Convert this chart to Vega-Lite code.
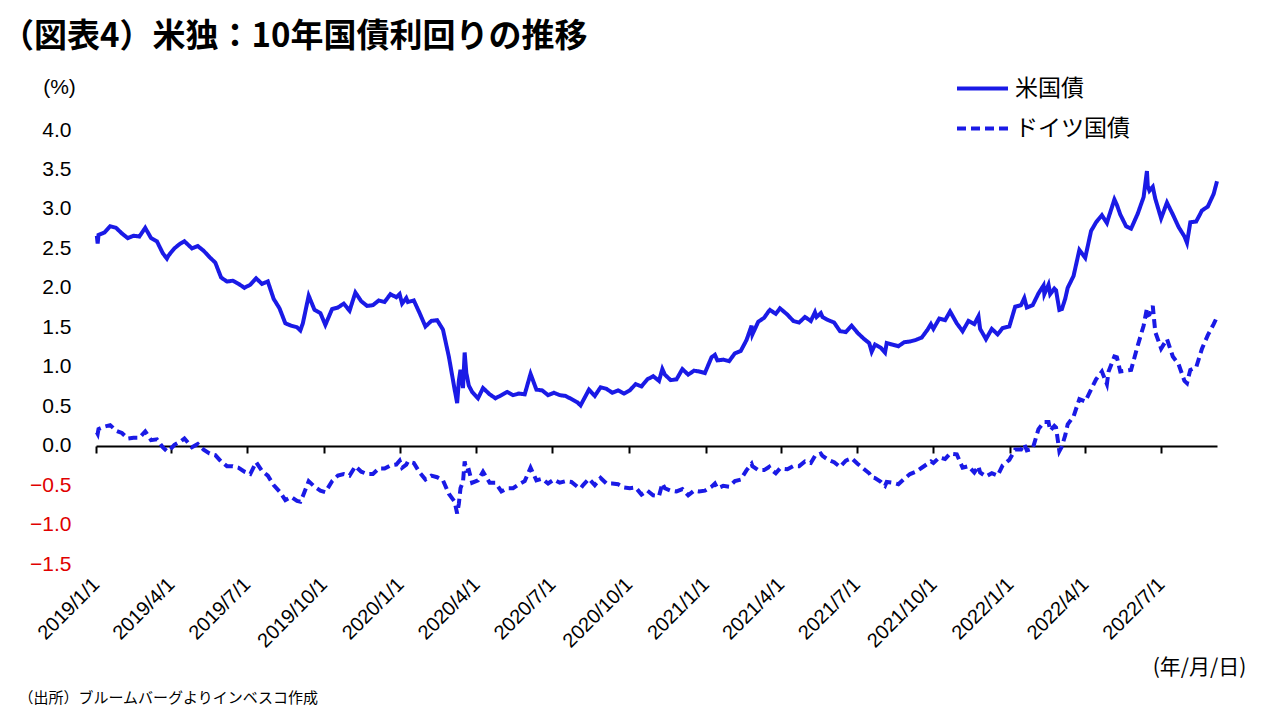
{
  "$schema": "https://vega.github.io/schema/vega-lite/v6.json",
  "width": 1121,
  "height": 434,
  "autosize": {"type": "none"},
  "padding": {"left": 96, "top": 130, "right": 63, "bottom": 156},
  "background": "white",
  "config": {"view": {"stroke": null}, "font": "Liberation Sans", "axis": {"labelOverlap": false}, "axisY": {"labelOverlap": false}},
  "title": {
    "text": "（図表4）米独：10年国債利回りの推移",
    "anchor": "start",
    "frame": "group",
    "font": "Noto Sans CJK JP",
    "fontSize": 33,
    "fontWeight": "bold",
    "color": "black",
    "dx": -95,
    "offset": -26,
    "baseline": "bottom"
  },
  "data": {
    "values": [
      {"d": "2019/01/02", "米国債": 2.66, "ドイツ国債": 0.17},
      {"d": "2019/01/03", "米国債": 2.56, "ドイツ国債": 0.15},
      {"d": "2019/01/04", "米国債": 2.67, "ドイツ国債": 0.21},
      {"d": "2019/01/11", "米国債": 2.70, "ドイツ国債": 0.24},
      {"d": "2019/01/18", "米国債": 2.78, "ドイツ国債": 0.26},
      {"d": "2019/01/25", "米国債": 2.76, "ドイツ国債": 0.19},
      {"d": "2019/02/01", "米国債": 2.69, "ドイツ国債": 0.16},
      {"d": "2019/02/08", "米国債": 2.63, "ドイツ国債": 0.09},
      {"d": "2019/02/15", "米国債": 2.66, "ドイツ国債": 0.10},
      {"d": "2019/02/22", "米国債": 2.65, "ドイツ国債": 0.10},
      {"d": "2019/03/01", "米国債": 2.76, "ドイツ国債": 0.18},
      {"d": "2019/03/08", "米国債": 2.63, "ドイツ国債": 0.07},
      {"d": "2019/03/15", "米国債": 2.59, "ドイツ国債": 0.08},
      {"d": "2019/03/22", "米国債": 2.44, "ドイツ国債": -0.02},
      {"d": "2019/03/27", "米国債": 2.37, "ドイツ国債": -0.07},
      {"d": "2019/03/29", "米国債": 2.41, "ドイツ国債": -0.07},
      {"d": "2019/04/05", "米国債": 2.50, "ドイツ国債": 0.01},
      {"d": "2019/04/12", "米国債": 2.56, "ドイツ国債": 0.05},
      {"d": "2019/04/17", "米国債": 2.59, "ドイツ国債": 0.09},
      {"d": "2019/04/26", "米国債": 2.50, "ドイツ国債": -0.02},
      {"d": "2019/05/03", "米国債": 2.53, "ドイツ国債": 0.02},
      {"d": "2019/05/10", "米国債": 2.47, "ドイツ国債": -0.05},
      {"d": "2019/05/17", "米国債": 2.39, "ドイツ国債": -0.10},
      {"d": "2019/05/24", "米国債": 2.32, "ドイツ国債": -0.12},
      {"d": "2019/05/31", "米国債": 2.13, "ドイツ国債": -0.20},
      {"d": "2019/06/07", "米国債": 2.08, "ドイツ国債": -0.26},
      {"d": "2019/06/14", "米国債": 2.09, "ドイツ国債": -0.26},
      {"d": "2019/06/21", "米国債": 2.05, "ドイツ国債": -0.28},
      {"d": "2019/06/28", "米国債": 2.00, "ドイツ国債": -0.33},
      {"d": "2019/07/05", "米国債": 2.04, "ドイツ国債": -0.36},
      {"d": "2019/07/12", "米国債": 2.12, "ドイツ国債": -0.21},
      {"d": "2019/07/19", "米国債": 2.05, "ドイツ国債": -0.32},
      {"d": "2019/07/26", "米国債": 2.08, "ドイツ国債": -0.38},
      {"d": "2019/08/02", "米国債": 1.86, "ドイツ国債": -0.50},
      {"d": "2019/08/09", "米国債": 1.74, "ドイツ国債": -0.58},
      {"d": "2019/08/16", "米国債": 1.55, "ドイツ国債": -0.69},
      {"d": "2019/08/23", "米国債": 1.52, "ドイツ国債": -0.65},
      {"d": "2019/08/30", "米国債": 1.50, "ドイツ国債": -0.70},
      {"d": "2019/09/03", "米国債": 1.46, "ドイツ国債": -0.71},
      {"d": "2019/09/06", "米国債": 1.55, "ドイツ国債": -0.64},
      {"d": "2019/09/13", "米国債": 1.90, "ドイツ国債": -0.45},
      {"d": "2019/09/20", "米国債": 1.72, "ドイツ国債": -0.52},
      {"d": "2019/09/27", "米国債": 1.68, "ドイツ国債": -0.57},
      {"d": "2019/10/03", "米国債": 1.53, "ドイツ国債": -0.59},
      {"d": "2019/10/11", "米国債": 1.73, "ドイツ国債": -0.45},
      {"d": "2019/10/18", "米国債": 1.75, "ドイツ国債": -0.38},
      {"d": "2019/10/25", "米国債": 1.80, "ドイツ国債": -0.36},
      {"d": "2019/11/01", "米国債": 1.71, "ドイツ国債": -0.38},
      {"d": "2019/11/08", "米国債": 1.94, "ドイツ国債": -0.26},
      {"d": "2019/11/15", "米国債": 1.83, "ドイツ国債": -0.33},
      {"d": "2019/11/22", "米国債": 1.77, "ドイツ国債": -0.36},
      {"d": "2019/11/29", "米国債": 1.78, "ドイツ国債": -0.36},
      {"d": "2019/12/06", "米国債": 1.84, "ドイツ国債": -0.29},
      {"d": "2019/12/13", "米国債": 1.82, "ドイツ国債": -0.29},
      {"d": "2019/12/20", "米国債": 1.92, "ドイツ国債": -0.25},
      {"d": "2019/12/27", "米国債": 1.88, "ドイツ国債": -0.24},
      {"d": "2019/12/31", "米国債": 1.92, "ドイツ国債": -0.19},
      {"d": "2020/01/03", "米国債": 1.80, "ドイツ国債": -0.28},
      {"d": "2020/01/08", "米国債": 1.87, "ドイツ国債": -0.24},
      {"d": "2020/01/10", "米国債": 1.82, "ドイツ国債": -0.20},
      {"d": "2020/01/17", "米国債": 1.84, "ドイツ国債": -0.22},
      {"d": "2020/01/24", "米国債": 1.68, "ドイツ国債": -0.34},
      {"d": "2020/01/31", "米国債": 1.51, "ドイツ国債": -0.43},
      {"d": "2020/02/07", "米国債": 1.58, "ドイツ国債": -0.38},
      {"d": "2020/02/14", "米国債": 1.59, "ドイツ国債": -0.40},
      {"d": "2020/02/21", "米国債": 1.47, "ドイツ国債": -0.44},
      {"d": "2020/02/28", "米国債": 1.13, "ドイツ国債": -0.61},
      {"d": "2020/03/06", "米国債": 0.71, "ドイツ国債": -0.71},
      {"d": "2020/03/09", "米国債": 0.54, "ドイツ国債": -0.86},
      {"d": "2020/03/11", "米国債": 0.82, "ドイツ国債": -0.74},
      {"d": "2020/03/13", "米国債": 0.96, "ドイツ国債": -0.54},
      {"d": "2020/03/16", "米国債": 0.73, "ドイツ国債": -0.46},
      {"d": "2020/03/18", "米国債": 1.18, "ドイツ国債": -0.20},
      {"d": "2020/03/20", "米国債": 0.92, "ドイツ国債": -0.32},
      {"d": "2020/03/23", "米国債": 0.76, "ドイツ国債": -0.31},
      {"d": "2020/03/27", "米国債": 0.68, "ドイツ国債": -0.47},
      {"d": "2020/04/03", "米国債": 0.60, "ドイツ国債": -0.44},
      {"d": "2020/04/09", "米国債": 0.73, "ドイツ国債": -0.33},
      {"d": "2020/04/17", "米国債": 0.65, "ドイツ国債": -0.47},
      {"d": "2020/04/24", "米国債": 0.60, "ドイツ国債": -0.47},
      {"d": "2020/05/01", "米国債": 0.64, "ドイツ国債": -0.58},
      {"d": "2020/05/08", "米国債": 0.68, "ドイツ国債": -0.54},
      {"d": "2020/05/15", "米国債": 0.64, "ドイツ国債": -0.54},
      {"d": "2020/05/22", "米国債": 0.66, "ドイツ国債": -0.49},
      {"d": "2020/05/29", "米国債": 0.65, "ドイツ国債": -0.45},
      {"d": "2020/06/05", "米国債": 0.91, "ドイツ国債": -0.28},
      {"d": "2020/06/12", "米国債": 0.71, "ドイツ国債": -0.44},
      {"d": "2020/06/19", "米国債": 0.70, "ドイツ国債": -0.42},
      {"d": "2020/06/26", "米国債": 0.64, "ドイツ国債": -0.48},
      {"d": "2020/07/03", "米国債": 0.67, "ドイツ国債": -0.43},
      {"d": "2020/07/10", "米国債": 0.64, "ドイツ国債": -0.47},
      {"d": "2020/07/17", "米国債": 0.63, "ドイツ国債": -0.45},
      {"d": "2020/07/24", "米国債": 0.59, "ドイツ国債": -0.46},
      {"d": "2020/07/31", "米国債": 0.55, "ドイツ国債": -0.52},
      {"d": "2020/08/04", "米国債": 0.51, "ドイツ国債": -0.54},
      {"d": "2020/08/07", "米国債": 0.57, "ドイツ国債": -0.50},
      {"d": "2020/08/14", "米国債": 0.71, "ドイツ国債": -0.42},
      {"d": "2020/08/21", "米国債": 0.63, "ドイツ国債": -0.50},
      {"d": "2020/08/28", "米国債": 0.74, "ドイツ国債": -0.41},
      {"d": "2020/09/04", "米国債": 0.72, "ドイツ国債": -0.48},
      {"d": "2020/09/11", "米国債": 0.67, "ドイツ国債": -0.48},
      {"d": "2020/09/18", "米国債": 0.70, "ドイツ国債": -0.49},
      {"d": "2020/09/25", "米国債": 0.66, "ドイツ国債": -0.53},
      {"d": "2020/10/02", "米国債": 0.70, "ドイツ国債": -0.54},
      {"d": "2020/10/09", "米国債": 0.78, "ドイツ国債": -0.53},
      {"d": "2020/10/16", "米国債": 0.75, "ドイツ国債": -0.62},
      {"d": "2020/10/23", "米国債": 0.84, "ドイツ国債": -0.57},
      {"d": "2020/10/30", "米国債": 0.88, "ドイツ国債": -0.63},
      {"d": "2020/11/06", "米国債": 0.82, "ドイツ国債": -0.64},
      {"d": "2020/11/10", "米国債": 0.97, "ドイツ国債": -0.48},
      {"d": "2020/11/13", "米国債": 0.90, "ドイツ国債": -0.54},
      {"d": "2020/11/20", "米国債": 0.83, "ドイツ国債": -0.57},
      {"d": "2020/11/27", "米国債": 0.84, "ドイツ国債": -0.58},
      {"d": "2020/12/04", "米国債": 0.97, "ドイツ国債": -0.55},
      {"d": "2020/12/11", "米国債": 0.90, "ドイツ国債": -0.63},
      {"d": "2020/12/18", "米国債": 0.95, "ドイツ国債": -0.57},
      {"d": "2020/12/24", "米国債": 0.94, "ドイツ国債": -0.58},
      {"d": "2020/12/31", "米国債": 0.92, "ドイツ国債": -0.57},
      {"d": "2021/01/08", "米国債": 1.12, "ドイツ国債": -0.52},
      {"d": "2021/01/12", "米国債": 1.15, "ドイツ国債": -0.48},
      {"d": "2021/01/15", "米国債": 1.08, "ドイツ国債": -0.54},
      {"d": "2021/01/22", "米国債": 1.09, "ドイツ国債": -0.51},
      {"d": "2021/01/29", "米国債": 1.07, "ドイツ国債": -0.52},
      {"d": "2021/02/05", "米国債": 1.17, "ドイツ国債": -0.45},
      {"d": "2021/02/12", "米国債": 1.20, "ドイツ国債": -0.43},
      {"d": "2021/02/19", "米国債": 1.34, "ドイツ国債": -0.31},
      {"d": "2021/02/25", "米国債": 1.52, "ドイツ国債": -0.23},
      {"d": "2021/02/26", "米国債": 1.41, "ドイツ国債": -0.26},
      {"d": "2021/03/05", "米国債": 1.57, "ドイツ国債": -0.31},
      {"d": "2021/03/12", "米国債": 1.62, "ドイツ国債": -0.31},
      {"d": "2021/03/18", "米国債": 1.71, "ドイツ国債": -0.27},
      {"d": "2021/03/19", "米国債": 1.72, "ドイツ国債": -0.29},
      {"d": "2021/03/26", "米国債": 1.67, "ドイツ国債": -0.35},
      {"d": "2021/03/31", "米国債": 1.74, "ドイツ国債": -0.29},
      {"d": "2021/04/09", "米国債": 1.66, "ドイツ国債": -0.30},
      {"d": "2021/04/16", "米国債": 1.58, "ドイツ国債": -0.26},
      {"d": "2021/04/23", "米国債": 1.56, "ドイツ国債": -0.26},
      {"d": "2021/04/30", "米国債": 1.63, "ドイツ国債": -0.20},
      {"d": "2021/05/07", "米国債": 1.58, "ドイツ国債": -0.22},
      {"d": "2021/05/12", "米国債": 1.69, "ドイツ国債": -0.13},
      {"d": "2021/05/14", "米国債": 1.63, "ドイツ国債": -0.13},
      {"d": "2021/05/19", "米国債": 1.68, "ドイツ国債": -0.10},
      {"d": "2021/05/21", "米国債": 1.63, "ドイツ国債": -0.13},
      {"d": "2021/05/28", "米国債": 1.59, "ドイツ国債": -0.18},
      {"d": "2021/06/04", "米国債": 1.56, "ドイツ国債": -0.21},
      {"d": "2021/06/11", "米国債": 1.45, "ドイツ国債": -0.27},
      {"d": "2021/06/18", "米国債": 1.44, "ドイツ国債": -0.19},
      {"d": "2021/06/25", "米国債": 1.52, "ドイツ国債": -0.16},
      {"d": "2021/07/02", "米国債": 1.43, "ドイツ国債": -0.23},
      {"d": "2021/07/09", "米国債": 1.36, "ドイツ国債": -0.29},
      {"d": "2021/07/16", "米国債": 1.30, "ドイツ国債": -0.35},
      {"d": "2021/07/19", "米国債": 1.19, "ドイツ国債": -0.40},
      {"d": "2021/07/23", "米国債": 1.28, "ドイツ国債": -0.41},
      {"d": "2021/07/30", "米国債": 1.24, "ドイツ国債": -0.46},
      {"d": "2021/08/04", "米国債": 1.18, "ドイツ国債": -0.51},
      {"d": "2021/08/06", "米国債": 1.30, "ドイツ国債": -0.46},
      {"d": "2021/08/13", "米国債": 1.28, "ドイツ国債": -0.47},
      {"d": "2021/08/20", "米国債": 1.26, "ドイツ国債": -0.49},
      {"d": "2021/08/27", "米国債": 1.31, "ドイツ国債": -0.42},
      {"d": "2021/09/03", "米国債": 1.32, "ドイツ国債": -0.36},
      {"d": "2021/09/10", "米国債": 1.34, "ドイツ国債": -0.33},
      {"d": "2021/09/17", "米国債": 1.37, "ドイツ国債": -0.28},
      {"d": "2021/09/24", "米国債": 1.47, "ドイツ国債": -0.23},
      {"d": "2021/09/28", "米国債": 1.54, "ドイツ国債": -0.20},
      {"d": "2021/10/01", "米国債": 1.48, "ドイツ国債": -0.22},
      {"d": "2021/10/08", "米国債": 1.61, "ドイツ国債": -0.15},
      {"d": "2021/10/15", "米国債": 1.59, "ドイツ国債": -0.17},
      {"d": "2021/10/21", "米国債": 1.70, "ドイツ国債": -0.10},
      {"d": "2021/10/29", "米国債": 1.55, "ドイツ国債": -0.11},
      {"d": "2021/11/05", "米国債": 1.45, "ドイツ国債": -0.28},
      {"d": "2021/11/12", "米国債": 1.58, "ドイツ国債": -0.26},
      {"d": "2021/11/19", "米国債": 1.54, "ドイツ国債": -0.34},
      {"d": "2021/11/24", "米国債": 1.64, "ドイツ国債": -0.26},
      {"d": "2021/11/26", "米国債": 1.48, "ドイツ国債": -0.34},
      {"d": "2021/12/03", "米国債": 1.35, "ドイツ国債": -0.39},
      {"d": "2021/12/10", "米国債": 1.48, "ドイツ国債": -0.35},
      {"d": "2021/12/17", "米国債": 1.41, "ドイツ国債": -0.38},
      {"d": "2021/12/23", "米国債": 1.49, "ドイツ国債": -0.25},
      {"d": "2021/12/31", "米国債": 1.51, "ドイツ国債": -0.18},
      {"d": "2022/01/07", "米国債": 1.76, "ドイツ国債": -0.05},
      {"d": "2022/01/14", "米国債": 1.78, "ドイツ国債": -0.05},
      {"d": "2022/01/18", "米国債": 1.87, "ドイツ国債": 0.02},
      {"d": "2022/01/21", "米国債": 1.75, "ドイツ国債": -0.06},
      {"d": "2022/01/28", "米国債": 1.78, "ドイツ国債": -0.04},
      {"d": "2022/02/04", "米国債": 1.93, "ドイツ国債": 0.21},
      {"d": "2022/02/10", "米国債": 2.03, "ドイツ国債": 0.29},
      {"d": "2022/02/11", "米国債": 1.92, "ドイツ国債": 0.30},
      {"d": "2022/02/16", "米国債": 2.04, "ドイツ国債": 0.30},
      {"d": "2022/02/18", "米国債": 1.92, "ドイツ国債": 0.19},
      {"d": "2022/02/23", "米国債": 1.99, "ドイツ国債": 0.25},
      {"d": "2022/02/25", "米国債": 1.97, "ドイツ国債": 0.23},
      {"d": "2022/03/01", "米国債": 1.72, "ドイツ国債": -0.07},
      {"d": "2022/03/04", "米国債": 1.73, "ドイツ国債": -0.01},
      {"d": "2022/03/08", "米国債": 1.86, "ドイツ国債": 0.13},
      {"d": "2022/03/11", "米国債": 2.00, "ドイツ国債": 0.27},
      {"d": "2022/03/18", "米国債": 2.15, "ドイツ国債": 0.37},
      {"d": "2022/03/25", "米国債": 2.48, "ドイツ国債": 0.59},
      {"d": "2022/04/01", "米国債": 2.38, "ドイツ国債": 0.56},
      {"d": "2022/04/08", "米国債": 2.72, "ドイツ国債": 0.71},
      {"d": "2022/04/14", "米国債": 2.83, "ドイツ国債": 0.84},
      {"d": "2022/04/21", "米国債": 2.92, "ドイツ国債": 0.94},
      {"d": "2022/04/27", "米国債": 2.82, "ドイツ国債": 0.78},
      {"d": "2022/04/29", "米国債": 2.89, "ドイツ国債": 0.94},
      {"d": "2022/05/06", "米国債": 3.12, "ドイツ国債": 1.13},
      {"d": "2022/05/09", "米国債": 3.05, "ドイツ国債": 1.12},
      {"d": "2022/05/13", "米国債": 2.93, "ドイツ国債": 0.94},
      {"d": "2022/05/20", "米国債": 2.78, "ドイツ国債": 0.95},
      {"d": "2022/05/26", "米国債": 2.75, "ドイツ国債": 0.96},
      {"d": "2022/06/03", "米国債": 2.94, "ドイツ国債": 1.27},
      {"d": "2022/06/10", "米国債": 3.15, "ドイツ国債": 1.52},
      {"d": "2022/06/14", "米国債": 3.48, "ドイツ国債": 1.74},
      {"d": "2022/06/15", "米国債": 3.29, "ドイツ国債": 1.65},
      {"d": "2022/06/17", "米国債": 3.23, "ドイツ国債": 1.66},
      {"d": "2022/06/21", "米国債": 3.28, "ドイツ国債": 1.77},
      {"d": "2022/06/24", "米国債": 3.13, "ドイツ国債": 1.44},
      {"d": "2022/07/01", "米国債": 2.88, "ドイツ国債": 1.23},
      {"d": "2022/07/08", "米国債": 3.08, "ドイツ国債": 1.35},
      {"d": "2022/07/15", "米国債": 2.93, "ドイツ国債": 1.13},
      {"d": "2022/07/22", "米国債": 2.77, "ドイツ国債": 1.03},
      {"d": "2022/07/29", "米国債": 2.65, "ドイツ国債": 0.82},
      {"d": "2022/08/01", "米国債": 2.57, "ドイツ国債": 0.79},
      {"d": "2022/08/05", "米国債": 2.83, "ドイツ国債": 0.96},
      {"d": "2022/08/12", "米国債": 2.84, "ドイツ国債": 0.99},
      {"d": "2022/08/19", "米国債": 2.98, "ドイツ国債": 1.23},
      {"d": "2022/08/26", "米国債": 3.03, "ドイツ国債": 1.40},
      {"d": "2022/09/02", "米国債": 3.19, "ドイツ国債": 1.54},
      {"d": "2022/09/06", "米国債": 3.35, "ドイツ国債": 1.63}
    ]
  },
  "transform": [{"fold": ["米国債", "ドイツ国債"], "as": ["series", "value"]}],
  "resolve": {"axis": {"x": "independent", "y": "independent"}},
  "layer": [
    {
      "mark": {"type": "line", "strokeWidth": 4, "color": "#1A1AE6"},
      "encoding": {
        "x": {
          "field": "d",
          "type": "temporal",
          "scale": {"domain": [{"year": 2019, "month": 1, "date": 1}, {"year": 2022, "month": 9, "date": 6}]},
          "axis": {
            "orient": "bottom",
            "values": [
              {"year": 2019, "month": 1, "date": 1}, {"year": 2019, "month": 4, "date": 1}, {"year": 2019, "month": 7, "date": 1}, {"year": 2019, "month": 10, "date": 1},
              {"year": 2020, "month": 1, "date": 1}, {"year": 2020, "month": 4, "date": 1}, {"year": 2020, "month": 7, "date": 1}, {"year": 2020, "month": 10, "date": 1},
              {"year": 2021, "month": 1, "date": 1}, {"year": 2021, "month": 4, "date": 1}, {"year": 2021, "month": 7, "date": 1}, {"year": 2021, "month": 10, "date": 1},
              {"year": 2022, "month": 1, "date": 1}, {"year": 2022, "month": 4, "date": 1}, {"year": 2022, "month": 7, "date": 1}
            ],
            "format": "%Y/%-m/%-d",
            "labelAngle": -45,
            "labelAlign": "right",
            "labelBaseline": "middle",
            "labelFont": "Liberation Sans",
            "labelFontSize": 20,
            "labelColor": "black",
            "labelPadding": 17,
            "labelOverlap": false,
            "labelFlush": false,
            "domain": false,
            "ticks": false,
            "grid": false,
            "title": "(年/月/日)",
            "titleFont": "Noto Sans CJK JP",
            "titleFontSize": 21,
            "titleFontWeight": "normal",
            "titleColor": "black",
            "titleX": 1103,
            "titleY": 103,
            "titleAlign": "center",
            "titleBaseline": "middle"
          }
        },
        "y": {
          "field": "value",
          "type": "quantitative",
          "scale": {"domain": [-1.5, 4.0], "nice": false, "zero": false},
          "axis": {
            "values": [-1.5, -1.0, -0.5, 0.0, 0.5, 1.0, 1.5, 2.0, 2.5, 3.0, 3.5, 4.0],
            "format": ".1f",
            "domain": false,
            "ticks": false,
            "grid": false,
            "labelFont": "Liberation Sans",
            "labelFontSize": 21,
            "labelPadding": 25,
            "labelFlush": false,
            "labelOverlap": false,
            "labelColor": {"condition": {"test": "datum.value < 0", "value": "#E00000"}, "value": "black"},
            "title": "(%)",
            "titleAngle": 0,
            "titleX": -37,
            "titleY": -43,
            "titleAlign": "center",
            "titleBaseline": "middle",
            "titleFont": "Liberation Sans",
            "titleFontSize": 21,
            "titleFontWeight": "normal",
            "titleColor": "black"
          }
        },
        "strokeDash": {
          "field": "series",
          "type": "nominal",
          "scale": {"domain": ["米国債", "ドイツ国債"], "range": [[1, 0], [9, 5]]},
          "legend": {
            "title": null,
            "orient": "none",
            "legendX": 859,
            "legendY": -69,
            "direction": "vertical",
            "padding": 0,
            "symbolType": "stroke",
            "symbolSize": 2600,
            "symbolStrokeWidth": 4,
            "symbolStrokeColor": "#1A1AE6",
            "labelFont": "Noto Sans CJK JP",
            "labelFontSize": 23,
            "labelColor": "black",
            "labelOffset": 5,
            "rowPadding": -8
          }
        }
      }
    },
    {
      "mark": {"type": "line", "strokeOpacity": 0},
      "encoding": {
        "x": {
          "field": "d",
          "type": "temporal",
          "axis": {
            "orient": "bottom",
            "offset": -118,
            "values": [
              {"year": 2019, "month": 1, "date": 1}, {"year": 2019, "month": 4, "date": 1}, {"year": 2019, "month": 7, "date": 1}, {"year": 2019, "month": 10, "date": 1},
              {"year": 2020, "month": 1, "date": 1}, {"year": 2020, "month": 4, "date": 1}, {"year": 2020, "month": 7, "date": 1}, {"year": 2020, "month": 10, "date": 1},
              {"year": 2021, "month": 1, "date": 1}, {"year": 2021, "month": 4, "date": 1}, {"year": 2021, "month": 7, "date": 1}, {"year": 2021, "month": 10, "date": 1},
              {"year": 2022, "month": 1, "date": 1}, {"year": 2022, "month": 4, "date": 1}, {"year": 2022, "month": 7, "date": 1}
            ],
            "labels": false,
            "domain": true,
            "domainColor": "black",
            "domainWidth": 2,
            "ticks": true,
            "tickColor": "black",
            "tickWidth": 2,
            "tickSize": 7,
            "grid": false,
            "title": "（出所）ブルームバーグよりインベスコ作成",
            "titleFont": "Noto Sans CJK JP",
            "titleFontSize": 15,
            "titleFontWeight": "normal",
            "titleColor": "black",
            "titleX": -78,
            "titleY": 251,
            "titleAlign": "left",
            "titleBaseline": "middle"
          }
        },
        "y": {"field": "value", "type": "quantitative", "axis": null},
        "detail": {"field": "series", "type": "nominal"}
      }
    }
  ]
}
